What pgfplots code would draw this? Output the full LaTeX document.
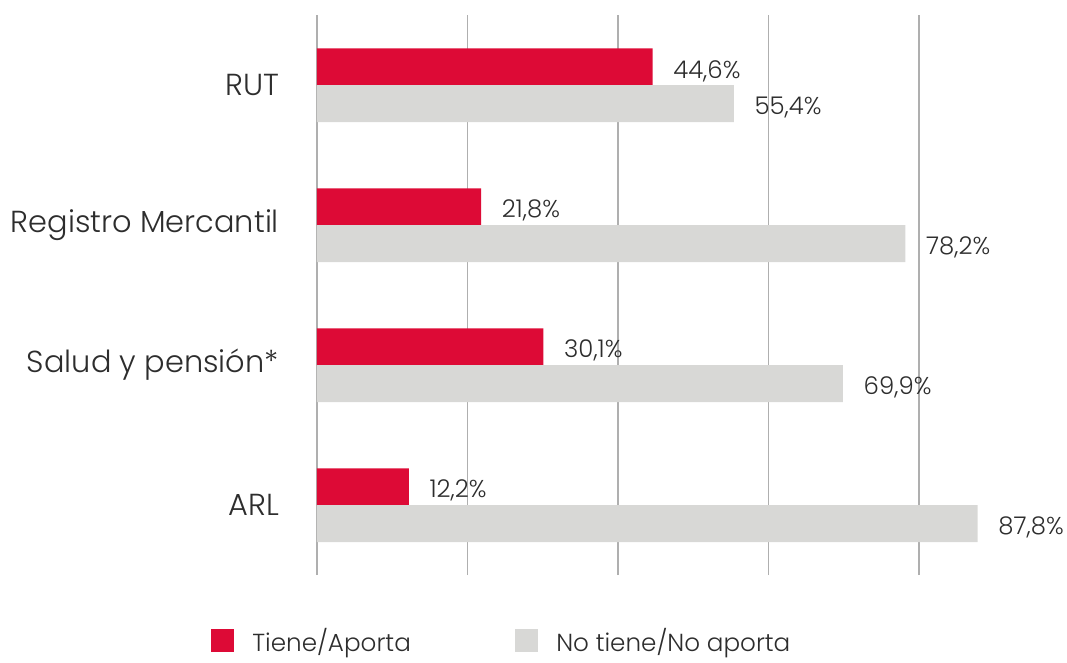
\documentclass[border=0pt]{standalone}
\usepackage{pgfplots}
\pgfplotsset{compat=1.18}
\usepackage{fontspec}
\setmainfont{Poppins}[UprightFont=* Light]
\definecolor{redbar}{RGB}{221,10,54}
\definecolor{graybar}{RGB}{216,216,214}
\definecolor{txt}{RGB}{45,45,45}
\definecolor{gridc}{RGB}{175,175,175}
\begin{document}
\begin{tikzpicture}
\begin{axis}[
  name=ax,
  scale only axis,
  width=562.5pt, height=420pt,
  xmin=0, xmax=99.67, ymin=-0.5, ymax=3.5,
  xbar, bar width=27.75pt,
  axis line style={draw=none},
  major tick length=0pt,
  xtick={0,20,40,60,80}, xticklabels={},
  xmajorgrids, grid style={gridc, line width=0.8pt},
  ytick={0,1,2,3},
  yticklabels={ARL,Salud y pensión*,Registro Mercantil,RUT},
  yticklabel style={font=\fontsize{22.8}{27}\selectfont, text=txt, xshift=-25pt},
  point meta=explicit symbolic,
  nodes near coords,
  every node near coord/.append style={font=\fontsize{18.3}{22}\selectfont, text=txt, anchor=west, xshift=12pt, yshift=-3pt},
  legend style={at={(axis description cs:-0.147,-0.117)}, anchor=west, draw=none, fill=none,
     font=\fontsize{18.5}{22}\selectfont, text=txt, legend columns=2,
     /tikz/every odd column/.append style={column sep=12pt},
     /tikz/every even column/.append style={column sep=76pt}},
  legend image code/.code={\fill[#1] (0pt,-8.6pt) rectangle (17pt,8.6pt);},
]
\addplot[fill=redbar, draw=none, bar shift=13.6pt] coordinates {
  (12.2,0) [12{,}2\%]
  (30.1,1) [30{,}1\%]
  (21.8,2) [21{,}8\%]
  (44.6,3) [44{,}6\%]
};
\addplot[fill=graybar, draw=none, bar shift=-13.9pt] coordinates {
  (87.8,0) [87{,}8\%]
  (69.9,1) [69{,}9\%]
  (78.2,2) [78{,}2\%]
  (55.4,3) [55{,}4\%]
};
\legend{Tiene/Aporta, No tiene/No aporta}
\end{axis}
\pgfresetboundingbox
\path[use as bounding box] (ax.south west) ++(-237.75pt,-65.25pt) rectangle ++(800.25pt,496.5pt);
\end{tikzpicture}
\end{document}
